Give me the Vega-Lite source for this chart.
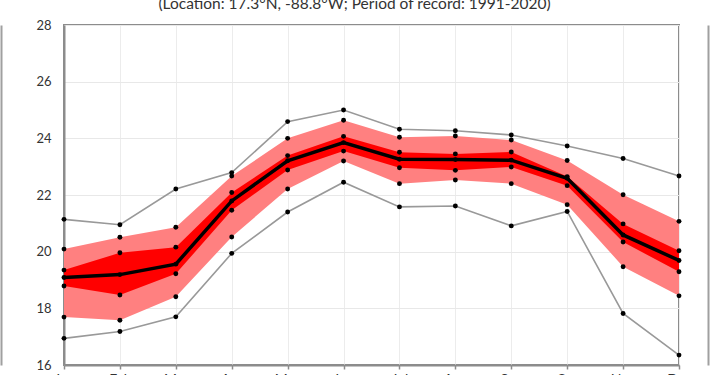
{
  "$schema": "https://vega.github.io/schema/vega-lite/v6.json",
  "width": 615,
  "height": 340,
  "autosize": {"type": "none"},
  "padding": {"left": 64, "top": 25, "right": 31, "bottom": 10},
  "background": "white",
  "title": {
    "text": "(Location: 17.3°N, -88.8°W; Period of record: 1991-2020)",
    "font": "Lato",
    "fontSize": 15.5,
    "fontWeight": "normal",
    "color": "#333333",
    "anchor": "middle",
    "frame": "bounds",
    "offset": 4,
    "dy": 12,
    "baseline": "bottom"
  },
  "config": {
    "view": {"stroke": "#8c8c8c", "strokeWidth": 2},
    "font": "Lato"
  },
  "data": {
    "values": [
      {"month": "Jan", "max": 21.14, "p95": 20.09, "p75": 19.35, "mean": 19.09, "p25": 18.79, "p5": 17.69, "min": 16.94},
      {"month": "Feb", "max": 20.95, "p95": 20.51, "p75": 19.96, "mean": 19.19, "p25": 18.47, "p5": 17.58, "min": 17.18},
      {"month": "Mar", "max": 22.21, "p95": 20.86, "p75": 20.16, "mean": 19.56, "p25": 19.22, "p5": 18.41, "min": 17.70},
      {"month": "Apr", "max": 22.79, "p95": 22.67, "p75": 22.09, "mean": 21.79, "p25": 21.46, "p5": 20.52, "min": 19.94},
      {"month": "May", "max": 24.59, "p95": 24.00, "p75": 23.39, "mean": 23.21, "p25": 22.88, "p5": 22.21, "min": 21.40},
      {"month": "Jun", "max": 25.00, "p95": 24.64, "p75": 24.07, "mean": 23.85, "p25": 23.55, "p5": 23.20, "min": 22.45},
      {"month": "Jul", "max": 24.32, "p95": 24.04, "p75": 23.51, "mean": 23.26, "p25": 22.96, "p5": 22.40, "min": 21.58},
      {"month": "Aug", "max": 24.27, "p95": 24.08, "p75": 23.45, "mean": 23.25, "p25": 22.87, "p5": 22.53, "min": 21.61},
      {"month": "Sep", "max": 24.12, "p95": 23.94, "p75": 23.52, "mean": 23.23, "p25": 22.99, "p5": 22.40, "min": 20.91},
      {"month": "Oct", "max": 23.73, "p95": 23.22, "p75": 22.65, "mean": 22.59, "p25": 22.33, "p5": 21.66, "min": 21.42},
      {"month": "Nov", "max": 23.29, "p95": 22.01, "p75": 20.98, "mean": 20.59, "p25": 20.34, "p5": 19.47, "min": 17.82},
      {"month": "Dec", "max": 22.67, "p95": 21.07, "p75": 20.03, "mean": 19.69, "p25": 19.29, "p5": 18.44, "min": 16.35}
    ]
  },
  "encoding": {
    "x": {
      "field": "month",
      "type": "ordinal",
      "scale": {"type": "point", "padding": 0, "domain": ["Jan","Feb","Mar","Apr","May","Jun","Jul","Aug","Sep","Oct","Nov","Dec"]},
      "axis": {
        "title": null,
        "labelAngle": 0,
        "labelFont": "Lato",
        "labelFontSize": 14,
        "labelColor": "#333333",
        "labelPadding": 3,
        "ticks": true,
        "tickSize": 4,
        "tickColor": "#8c8c8c",
        "tickWidth": 1.5,
        "domainColor": "#8c8c8c",
        "domainWidth": 2,
        "grid": true,
        "gridColor": "#ececec",
        "gridWidth": 1
      }
    }
  },
  "resolve": {"axis": {"y": "independent"}},
  "layer": [
    {
      "mark": {"type": "area", "color": "#ff8080", "opacity": 1},
      "encoding": {
        "y": {
          "field": "p5",
          "type": "quantitative",
          "scale": {"domain": [16, 28], "nice": false, "zero": false},
          "axis": {
            "title": null,
            "orient": "left",
            "values": [16, 18, 20, 22, 24, 26, 28],
            "labelFont": "Lato",
            "labelFontSize": 13,
            "labelColor": "#333333",
            "labelPadding": 13,
            "ticks": false,
            "tickSize": 0,
            "domainColor": "#8c8c8c",
            "domainWidth": 2,
            "grid": true,
            "gridColor": "#e8e8e8",
            "gridWidth": 1
          }
        },
        "y2": {"field": "p95"}
      }
    },
    {
      "mark": {"type": "area", "color": "#ff0000", "opacity": 1},
      "encoding": {
        "y": {
          "field": "p25",
          "type": "quantitative",
          "axis": {
            "title": null,
            "orient": "right",
            "offset": 29,
            "labels": false,
            "ticks": false,
            "grid": false,
            "domainColor": "#a0a0a0",
            "domainWidth": 2
          }
        },
        "y2": {"field": "p75"}
      }
    },
    {
      "mark": {"type": "line", "color": "#999999", "strokeWidth": 1.6},
      "encoding": {
        "y": {
          "field": "max",
          "type": "quantitative",
          "axis": {
            "title": null,
            "orient": "left",
            "offset": 63,
            "labels": false,
            "ticks": false,
            "grid": false,
            "domainColor": "#a0a0a0",
            "domainWidth": 2
          }
        }
      }
    },
    {
      "mark": {"type": "line", "color": "#999999", "strokeWidth": 1.6},
      "encoding": {
        "y": {"field": "min", "type": "quantitative", "axis": null}
      }
    },
    {
      "mark": {"type": "line", "color": "#000000", "strokeWidth": 3.5},
      "encoding": {
        "y": {"field": "mean", "type": "quantitative", "axis": null}
      }
    },
    {
      "transform": [
        {"fold": ["max", "p95", "p75", "mean", "p25", "p5", "min"], "as": ["stat", "value"]}
      ],
      "mark": {"type": "point", "filled": true, "color": "#000000", "size": 24, "opacity": 1},
      "encoding": {
        "y": {"field": "value", "type": "quantitative", "axis": null}
      }
    }
  ]
}
